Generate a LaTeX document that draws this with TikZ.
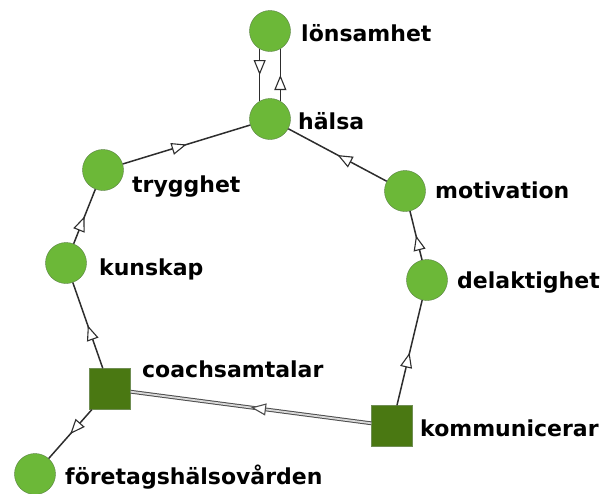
\documentclass[tikz,border=0pt]{standalone}
\usepackage{fontspec}
\newfontfamily\lblfont{DejaVu Sans}
\usetikzlibrary{arrows.meta,decorations.markings}
\definecolor{leaf}{RGB}{108,184,56}
\definecolor{leafrim}{RGB}{88,128,66}
\definecolor{moss}{RGB}{74,120,18}
\definecolor{mossrim}{RGB}{112,142,84}
\definecolor{wire}{RGB}{45,45,45}

\begin{document}
\begin{tikzpicture}[
      x=1pt, y=-1pt,
      concept/.style={circle, draw=leafrim, fill=leaf, minimum size=41pt, inner sep=0pt},
      action/.style={rectangle, draw=mossrim, fill=moss, minimum size=41pt, inner sep=0pt},
      nodetext/.style={anchor=base west, inner sep=0pt, font=\lblfont\bfseries\fontsize{22}{24}\selectfont},
      midtip/.style={postaction={decorate, decoration={markings,
        mark=at position 0.5 with {\arrow{Triangle[fill=white, length=15pt, width=12pt, line width=1.1pt]}}}}},
      flow/.style={draw=wire, line width=1.5pt, midtip},
      strong/.style={draw=gray!60!black, double=gray!30, double distance=1.8pt, line width=1pt, midtip}
    ]
    \useasboundingbox (0,0) rectangle (610,493);

    % nodes
    \node[concept] (lon) at (270,31) {};
    \node[concept] (hal) at (270,119) {};
    \node[concept] (try) at (103,170) {};
    \node[concept] (kun) at (66,263) {};
    \node[action] (coa) at (110,389) {};
    \node[concept] (fhv) at (35,474) {};
    \node[concept] (mot) at (405,191) {};
    \node[concept] (del) at (427,280) {};
    \node[action] (kom) at (392,426) {};

    % labels
    \node[nodetext] (lon-t) at (301,41) {lönsamhet};
    \node[nodetext] (hal-t) at (298,129) {hälsa};
    \node[nodetext] (try-t) at (132,192) {trygghet};
    \node[nodetext] (kun-t) at (99,275) {kunskap};
    \node[nodetext] (coa-t) at (142,377) {coachsamtalar};
    \node[nodetext] (fhv-t) at (65,484) {företagshälsovården};
    \node[nodetext] (mot-t) at (435,198) {motivation};
    \node[nodetext] (del-t) at (457,288) {delaktighet};
    \node[nodetext] (kom-t) at (420,436) {kommunicerar};

    % ties
    \draw[flow] (lon.240) -- (hal.120);
    \draw[flow] (hal.60) -- (lon.300);
    \draw[flow] (try) -- (hal);
    \draw[flow] (mot) -- (hal);
    \draw[flow] (kun) -- (try);
    \draw[flow] (coa) -- (kun);
    \draw[flow] (coa) -- (fhv);
    \draw[flow] (del) -- (mot);
    \draw[flow] (kom) -- (del);
    \draw[strong] (kom) -- (coa);
  \end{tikzpicture}
\end{document}
